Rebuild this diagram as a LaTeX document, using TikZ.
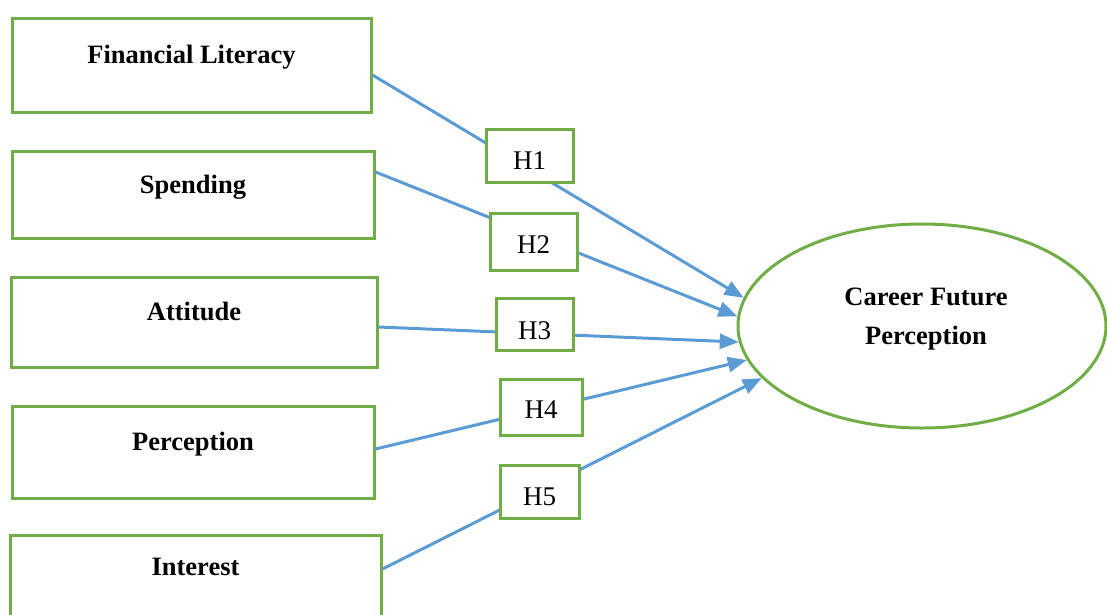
\documentclass[tikz,border=0pt]{standalone}
\usepackage{fontspec}
\setmainfont{Liberation Serif}
\usetikzlibrary{arrows.meta,shapes.geometric}
\definecolor{boxgreen}{RGB}{112,173,71}
\definecolor{lineblue}{RGB}{91,155,213}
\begin{document}
\begin{tikzpicture}[x=1pt,y=-1pt,
  varbox/.style={draw=boxgreen, line width=3pt, fill=white, inner sep=0pt},
  hbox/.style={draw=boxgreen, line width=3pt, fill=white, inner sep=0pt},
  vartext/.style={font=\fontsize{26.5}{39}\selectfont\bfseries, anchor=base, inner sep=0pt},
  htext/.style={font=\fontsize{27}{30}\selectfont, anchor=base, inner sep=0pt},
  link/.style={draw=lineblue, line width=3pt, -{Triangle[length=19pt,width=15pt]}}]
\useasboundingbox (0,0) rectangle (1107,614);
% variable boxes
\node[varbox, minimum width=359, minimum height=94] (fl) at (191.5,65) {};
\node[varbox, minimum width=362, minimum height=87] (sp) at (193,194.5) {};
\node[varbox, minimum width=366, minimum height=90] (at) at (194,322) {};
\node[varbox, minimum width=362, minimum height=92] (pe) at (193,452) {};
\node[varbox, minimum width=371, minimum height=89] (in) at (195.5,579.5) {};
\node[vartext] (flt) at (191.5,63) {Financial Literacy};
\node[vartext] (spt) at (193,193) {Spending};
\node[vartext] (att) at (194,320) {Attitude};
\node[vartext] (pet) at (193,450) {Perception};
\node[vartext] (int) at (195.5,575) {Interest};
% outcome
\node[draw=boxgreen, line width=3pt, ellipse, minimum width=368, minimum height=204, inner sep=0pt] (cfp) at (922,326) {};
\node[vartext, align=center, anchor=base] (cfpt) at (926,344) {Career Future\\Perception};
% connectors
\draw[link] ([yshift=-10pt]fl.east) -- (cfp.171);
\draw[link] ([yshift=22.5pt]sp.east) -- (cfp.177.5);
\draw[link] ([yshift=-5pt]at.east) -- (cfp.185.5);
\draw[link] ([yshift=3pt]pe.east) -- (cfp.191.5);
\draw[link] ([yshift=10.5pt]in.east) -- (cfp.198.2);
% hypothesis boxes
\node[hbox, minimum width=87, minimum height=53] (h1) at (529.5,155.5) {};
\node[hbox, minimum width=87, minimum height=57] (h2) at (533.5,241.5) {};
\node[hbox, minimum width=77, minimum height=52] (h3) at (534.5,324) {};
\node[hbox, minimum width=82, minimum height=56] (h4) at (541,407) {};
\node[hbox, minimum width=79, minimum height=53] (h5) at (539.5,491.5) {};
\node[htext] (h1t) at (h1 |- 0,169) {H1};
\node[htext] (h2t) at (h2 |- 0,253) {H2};
\node[htext] (h3t) at (h3 |- 0,339) {H3};
\node[htext] (h4t) at (h4 |- 0,418) {H4};
\node[htext] (h5t) at (h5 |- 0,505) {H5};
\end{tikzpicture}
\end{document}
